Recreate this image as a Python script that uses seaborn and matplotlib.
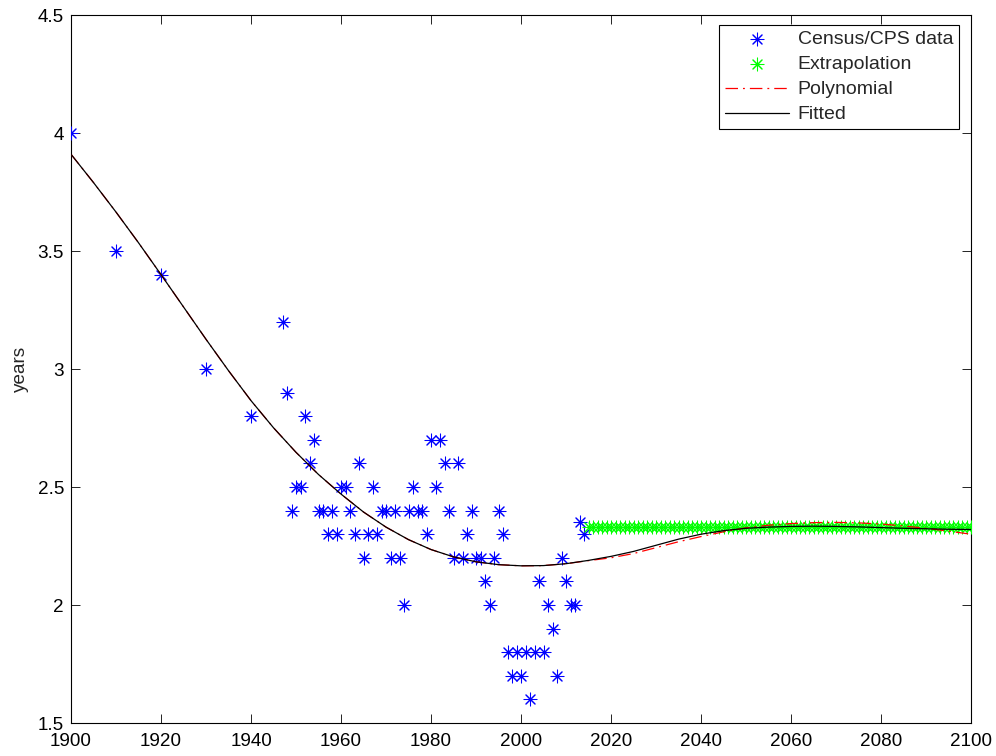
import numpy as np
import pandas as pd
import matplotlib
matplotlib.use("Agg")
import matplotlib.pyplot as plt
import seaborn as sns

# ---------------- data ----------------
census_years = [1900, 1910, 1920, 1930, 1940,
                1947, 1948, 1949, 1950, 1951, 1952, 1953, 1954, 1955, 1956,
                1957, 1958, 1959, 1960, 1961, 1962, 1963, 1964, 1965, 1966,
                1967, 1968, 1969, 1970, 1971, 1972, 1973, 1974, 1975, 1976,
                1977, 1978, 1979, 1980, 1981, 1982, 1983, 1984, 1985, 1986,
                1987, 1988, 1989, 1990, 1991, 1992, 1993, 1994, 1995, 1996,
                1997, 1998, 1999, 2000, 2001, 2002, 2003, 2004, 2005, 2006,
                2007, 2008, 2009, 2010, 2011, 2012, 2013, 2014]
census_values = [4.0, 3.5, 3.4, 3.0, 2.8,
                 3.2, 2.9, 2.4, 2.5, 2.5, 2.8, 2.6, 2.7, 2.4, 2.4,
                 2.3, 2.4, 2.3, 2.5, 2.5, 2.4, 2.3, 2.6, 2.2, 2.3,
                 2.5, 2.3, 2.4, 2.4, 2.2, 2.4, 2.2, 2.0, 2.4, 2.5,
                 2.4, 2.4, 2.3, 2.7, 2.5, 2.7, 2.6, 2.4, 2.2, 2.6,
                 2.2, 2.3, 2.4, 2.2, 2.2, 2.1, 2.0, 2.2, 2.4, 2.3,
                 1.8, 1.7, 1.8, 1.7, 1.8, 1.6, 1.8, 2.1, 1.8, 2.0,
                 1.9, 1.7, 2.2, 2.1, 2.0, 2.0, 2.35, 2.3]

extrap_years = list(range(2015, 2101))
extrap_values = [2.33] * len(extrap_years)

curve_years = [1900, 1905, 1910, 1915, 1920, 1925, 1930, 1935, 1940, 1945,
               1950, 1955, 1960, 1965, 1970, 1975, 1980, 1985, 1990, 1995,
               2000, 2005, 2010, 2015, 2020, 2025, 2030, 2035, 2040, 2045,
               2050, 2055, 2060, 2065, 2070, 2075, 2080, 2085, 2090, 2095, 2100]
fitted_values = [3.91, 3.79, 3.665, 3.535, 3.40, 3.263, 3.126, 2.993, 2.866, 2.751,
                 2.647, 2.553, 2.470, 2.394, 2.330, 2.277, 2.235, 2.204, 2.183, 2.171,
                 2.166, 2.167, 2.175, 2.189, 2.206, 2.227, 2.253, 2.279, 2.300, 2.315,
                 2.325, 2.330, 2.333, 2.334, 2.333, 2.331, 2.328, 2.325, 2.323, 2.321, 2.320]
poly_values = [3.91, 3.79, 3.665, 3.535, 3.40, 3.263, 3.126, 2.993, 2.866, 2.751,
               2.647, 2.553, 2.470, 2.394, 2.330, 2.277, 2.235, 2.204, 2.183, 2.171,
               2.166, 2.167, 2.175, 2.188, 2.200, 2.218, 2.243, 2.268, 2.290, 2.310,
               2.327, 2.338, 2.345, 2.349, 2.350, 2.348, 2.343, 2.335, 2.325, 2.313, 2.300]

x_ticks = [1900, 1920, 1940, 1960, 1980, 2000, 2020, 2040, 2060, 2080, 2100]
y_ticks = [1.5, 2.0, 2.5, 3.0, 3.5, 4.0, 4.5]
y_tick_labels = ["1.5", "2", "2.5", "3", "3.5", "4", "4.5"]
legend_labels = ["Census/CPS data", "Extrapolation", "Polynomial", "Fitted"]
y_label = "years"

# ---------------- style ----------------
sns.set_theme(style="white")
plt.rcParams["font.family"] = ["Liberation Sans", "DejaVu Sans"]
plt.rcParams["axes.edgecolor"] = "black"
plt.rcParams["axes.linewidth"] = 0.8

fig = plt.figure(figsize=(9.96, 7.56), dpi=100)
ax = fig.add_axes([71 / 996, 1 - 723 / 756, 900 / 996, 708 / 756])

star = (8, 2, 0)

census_df = pd.DataFrame({"year": census_years, "value": census_values})
extrap_df = pd.DataFrame({"year": extrap_years, "value": extrap_values})
curve_df = pd.DataFrame({"year": curve_years, "fitted": fitted_values,
                         "poly": poly_values})

sns.scatterplot(data=census_df, x="year", y="value", marker=star, s=85,
                color=(0, 0, 1), linewidth=0.75, ax=ax, label=legend_labels[0],
                zorder=3)
sns.scatterplot(data=extrap_df, x="year", y="value", marker=star, s=85,
                color=(0, 1, 0), linewidth=0.75, ax=ax, label=legend_labels[1],
                zorder=3)
sns.lineplot(data=curve_df, x="year", y="poly", color=(1, 0, 0), lw=0.9,
             linestyle=(0, (10, 4, 1.5, 4)), ax=ax, label=legend_labels[2],
             zorder=4)
sns.lineplot(data=curve_df, x="year", y="fitted", color="black", lw=0.9,
             ax=ax, label=legend_labels[3], zorder=5)

ax.set_xlim(1900, 2100)
ax.set_ylim(1.5, 4.5)
ax.set_xticks(x_ticks)
ax.set_xticklabels([str(t) for t in x_ticks])
ax.set_yticks(y_ticks)
ax.set_yticklabels(y_tick_labels)
ax.set_xlabel("")
ax.set_ylabel(y_label, fontsize=13.6, labelpad=6)
ax.tick_params(axis="both", which="both", direction="in", length=6.5, width=0.6,
               top=True, right=True, bottom=True, left=True,
               labelsize=13.6, colors="black")
ax.tick_params(axis="x", pad=7)
ax.tick_params(axis="y", pad=5)
for sp in ax.spines.values():
    sp.set_visible(True)
    sp.set_color("black")
    sp.set_linewidth(0.8)

leg = ax.legend(loc="upper right", bbox_to_anchor=(959 / 996, 1 - 25 / 756),
                bbox_transform=fig.transFigure, fontsize=14, frameon=True,
                fancybox=False, shadow=False, framealpha=1, edgecolor="black",
                handlelength=3.3, handletextpad=0.45, borderpad=0.3,
                labelspacing=0.38, scatterpoints=1, borderaxespad=0)
leg.get_frame().set_linewidth(0.8)

fig.savefig("out.png", dpi=100)
